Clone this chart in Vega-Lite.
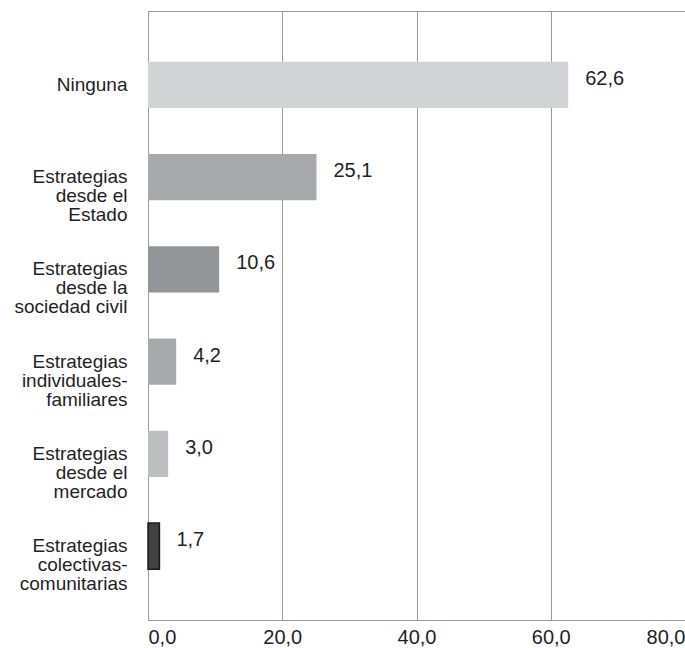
{
  "$schema": "https://vega.github.io/schema/vega-lite/v6.json",
  "autosize": {"type": "none"},
  "padding": {"left": 148, "top": 11, "right": 0, "bottom": 28},
  "width": 537,
  "height": 609,
  "background": "white",
  "config": {
    "view": {"stroke": "#9a9a9a", "strokeWidth": 1},
    "font": "Liberation Sans",
    "locale": {
      "number": {"decimal": ",", "thousands": ".", "grouping": [3], "currency": ["", " €"]}
    }
  },
  "data": {
    "values": [
      {"estrategia": "Ninguna", "porcentaje": 62.6},
      {"estrategia": "Estrategias|desde el|Estado", "porcentaje": 25.1},
      {"estrategia": "Estrategias|desde la|sociedad civil", "porcentaje": 10.6},
      {"estrategia": "Estrategias|individuales-|familiares", "porcentaje": 4.2},
      {"estrategia": "Estrategias|desde el|mercado", "porcentaje": 3.0},
      {"estrategia": "Estrategias|colectivas-|comunitarias", "porcentaje": 1.7}
    ]
  },
  "encoding": {
    "y": {
      "field": "estrategia",
      "type": "nominal",
      "sort": null,
      "scale": {"paddingInner": 0.5, "paddingOuter": 0.55},
      "axis": {
        "title": null,
        "labelExpr": "split(datum.label, '|')",
        "labelFontSize": 19,
        "labelLineHeight": 19,
        "labelColor": "#1f1f1f",
        "labelPadding": 21,
        "labelAlign": "right",
        "labelBaseline": "middle",
        "labelLimit": 200,
        "ticks": false,
        "domainColor": "#9a9a9a",
        "grid": false
      }
    }
  },
  "layer": [
    {
      "mark": {"type": "bar", "strokeWidth": 1.5},
      "encoding": {
        "x": {
          "field": "porcentaje",
          "type": "quantitative",
          "scale": {"domain": [0, 80], "nice": false},
          "axis": {
            "title": null,
            "values": [0, 20, 40, 60, 80],
            "format": ".1f",
            "labelFontSize": 20,
            "labelColor": "#1f1f1f",
            "labelPadding": 7,
            "labelFlush": true,
            "ticks": false,
            "grid": true,
            "gridColor": "#9a9a9a",
            "gridWidth": 1,
            "domainColor": "#9a9a9a"
          }
        },
        "color": {
          "field": "estrategia",
          "type": "nominal",
          "legend": null,
          "scale": {
            "domain": ["Ninguna", "Estrategias|desde el|Estado", "Estrategias|desde la|sociedad civil", "Estrategias|individuales-|familiares", "Estrategias|desde el|mercado", "Estrategias|colectivas-|comunitarias"],
            "range": ["#d1d3d4", "#a7a9ac", "#939598", "#a7a9ac", "#bcbec0", "#414042"]
          }
        },
        "stroke": {
          "field": "estrategia",
          "type": "nominal",
          "legend": null,
          "scale": {
            "domain": ["Ninguna", "Estrategias|desde el|Estado", "Estrategias|desde la|sociedad civil", "Estrategias|individuales-|familiares", "Estrategias|desde el|mercado", "Estrategias|colectivas-|comunitarias"],
            "range": ["transparent", "transparent", "transparent", "transparent", "transparent", "#1a1a1a"]
          }
        }
      }
    },
    {
      "mark": {"type": "text", "align": "left", "baseline": "middle", "dx": 17, "dy": -6, "fontSize": 20, "color": "#1f1f1f"},
      "encoding": {
        "x": {"field": "porcentaje", "type": "quantitative"},
        "text": {"field": "porcentaje", "type": "quantitative", "format": ".1f"}
      }
    }
  ]
}
